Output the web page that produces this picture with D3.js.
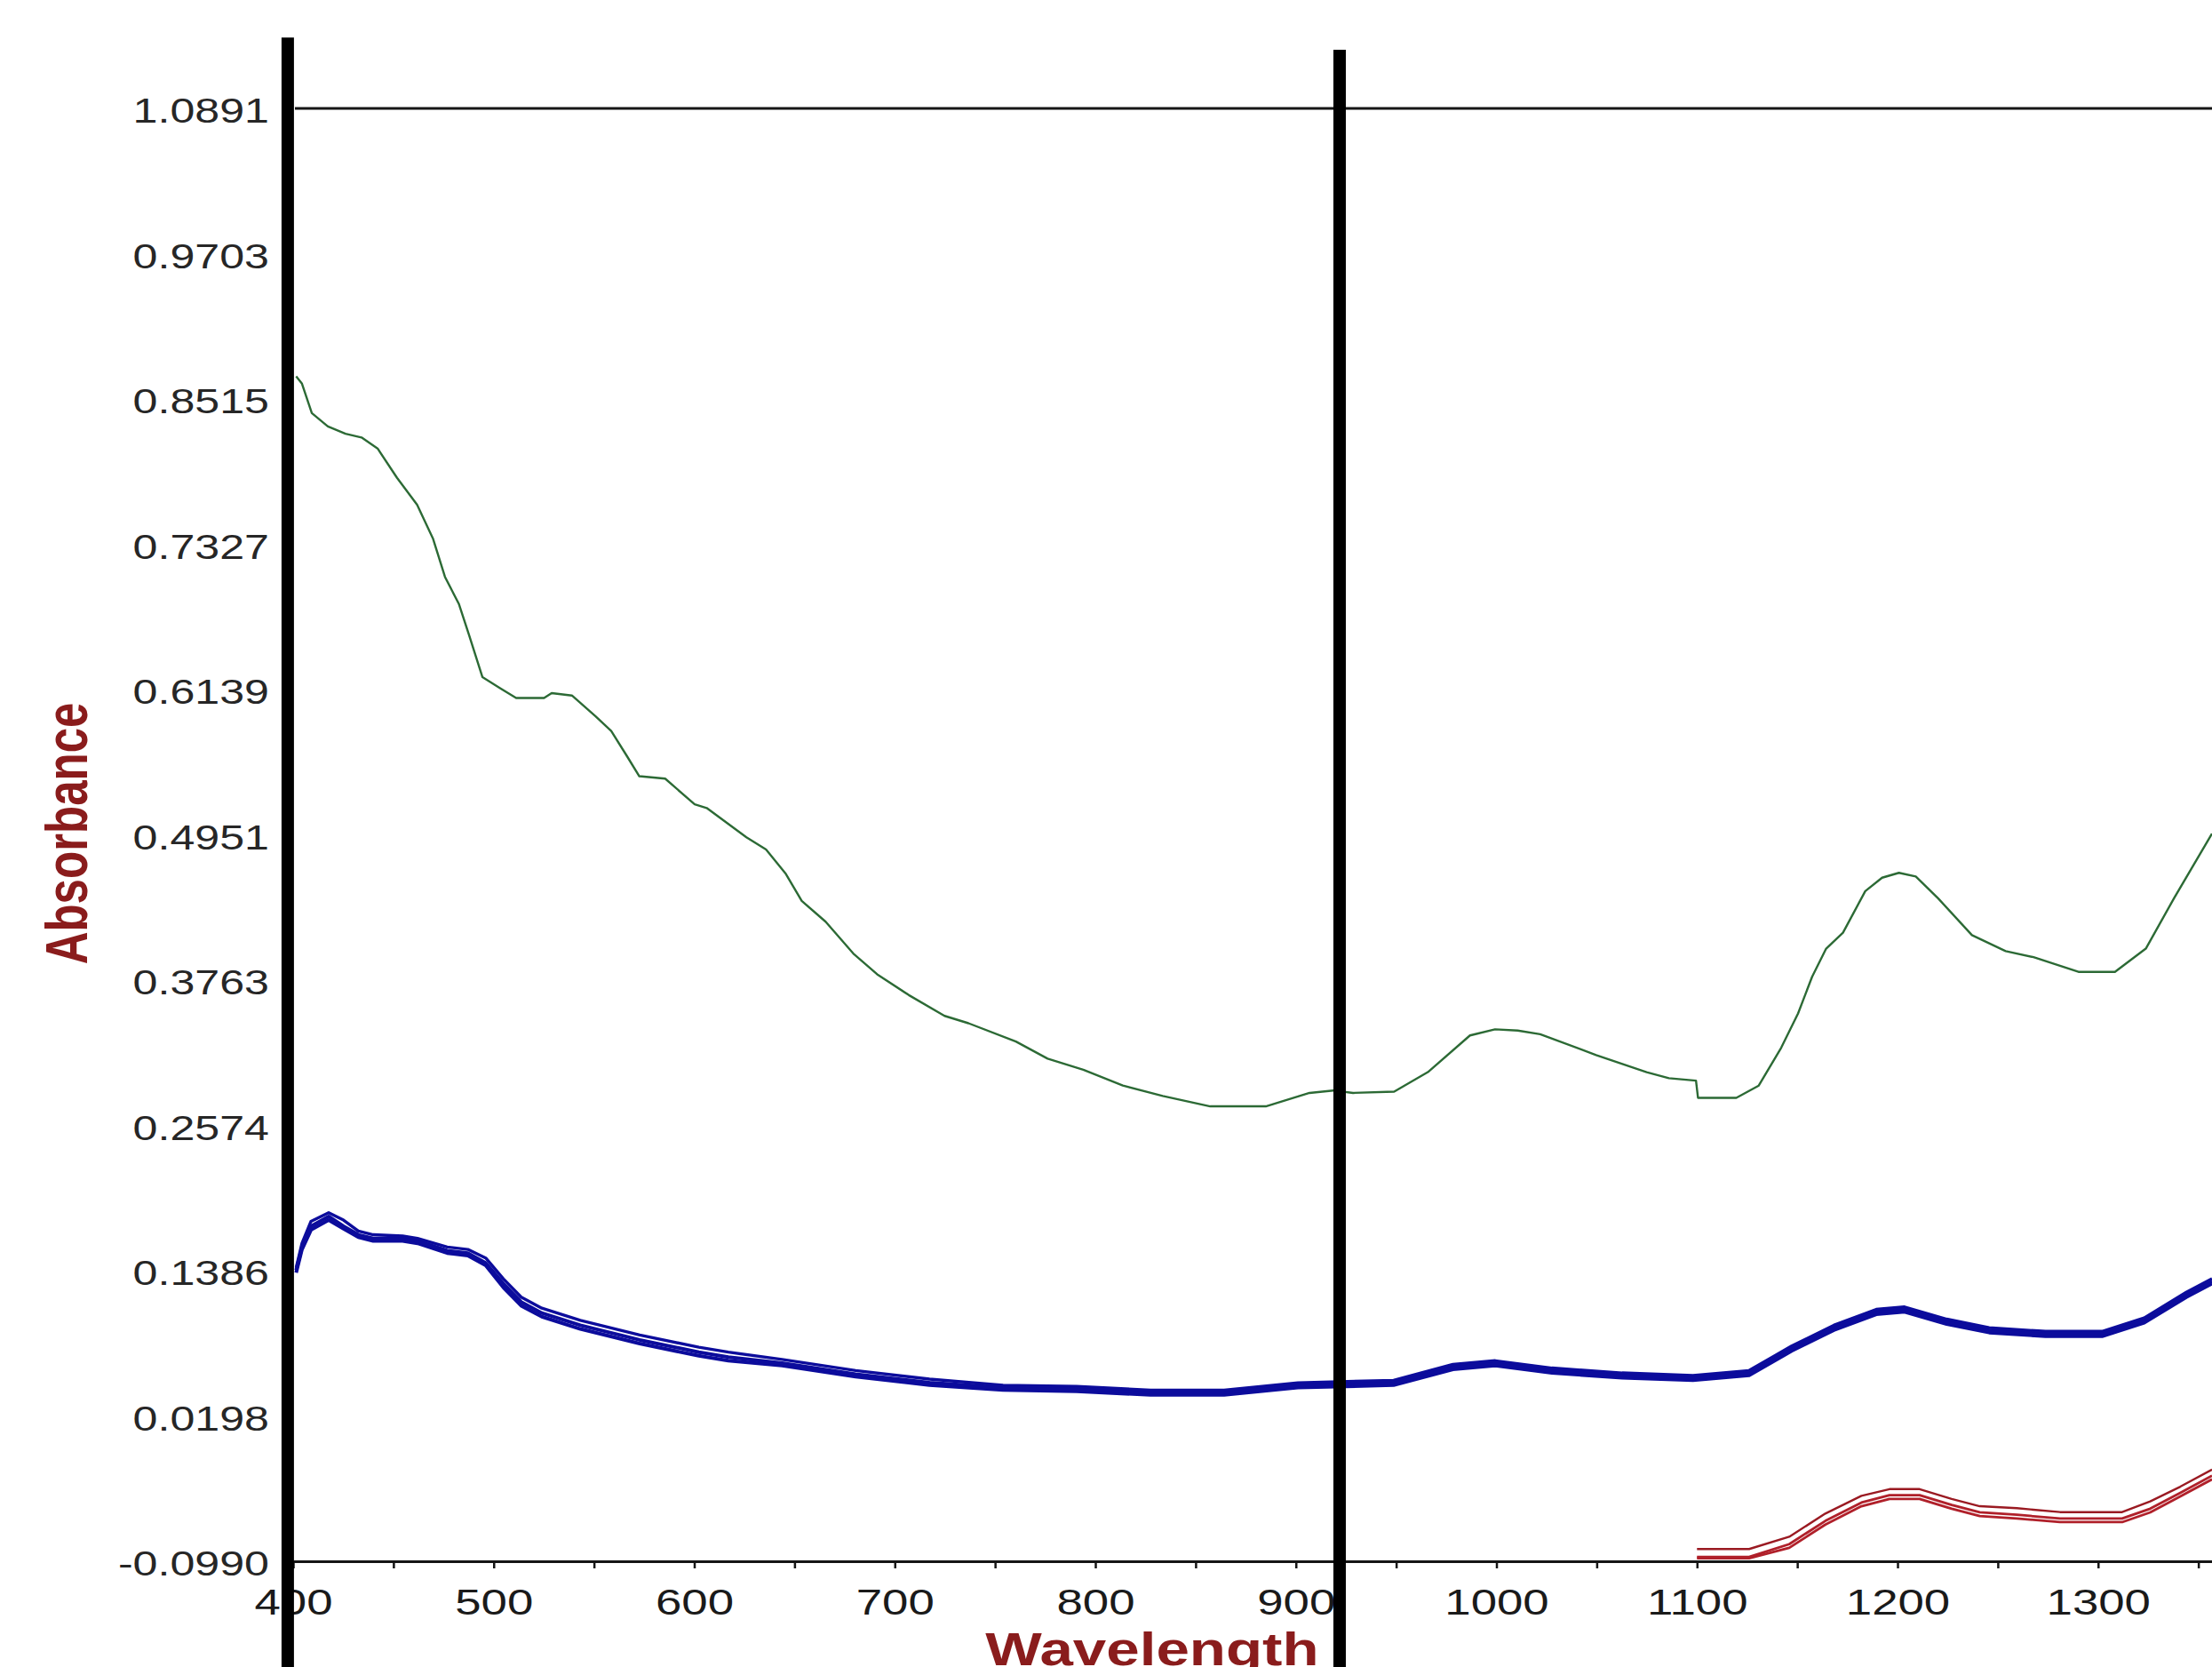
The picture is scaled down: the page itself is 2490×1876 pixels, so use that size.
<!DOCTYPE html>
<html><head><meta charset="utf-8">
<script src="https://cdn.jsdelivr.net/npm/d3@7"></script>
<style>html,body{margin:0;padding:0;background:#fff;overflow:hidden}</style>
</head><body>
<svg id="c" width="2490" height="1876" xmlns="http://www.w3.org/2000/svg"></svg>
<script>
// ---- data ----
const greenW = [401.5,404.4,409.3,417.3,426.1,434.1,442.1,451.8,461.8,469.8,475.7,482.6,487.6,494.4,503.2,511.2,525.1,528.9,539.0,550.8,558.6,566.6,572.6,585.5,600.2,606.2,626,635.8,645.7,653.6,665.5,679.3,691.2,707,724.8,736.7,760.4,776.2,794,813.7,833.6,857.3,885,906.8,918.6,928.5,949,965.8,986.8,999.3,1010.6,1021.8,1049.7,1074.9,1086,1099.5,1100.5,1119.6,1130.8,1142,1150.4,1157.4,1164.4,1172.8,1183.9,1192.3,1200.7,1209.1,1220.3,1237.1,1253.9,1267.8,1290.2,1308.4,1323.8,1337.8,1356.8];
const greenA = [0.870,0.864,0.840,0.829,0.823,0.820,0.811,0.787,0.765,0.737,0.706,0.684,0.659,0.624,0.615,0.607,0.607,0.611,0.609,0.592,0.580,0.559,0.543,0.541,0.520,0.517,0.493,0.483,0.463,0.441,0.424,0.398,0.381,0.364,0.347,0.341,0.326,0.312,0.303,0.290,0.2815,0.273,0.273,0.284,0.286,0.284,0.285,0.301,0.331,0.336,0.335,0.332,0.315,0.301,0.296,0.294,0.280,0.280,0.290,0.321,0.349,0.379,0.402,0.415,0.449,0.460,0.464,0.461,0.443,0.413,0.400,0.395,0.383,0.383,0.402,0.443,0.496];

const blueW = [401.5,404.4,408.9,417.7,425.1,432.5,439.9,454.6,462,476.8,487.1,496,504.8,513.7,524,543.2,572.8,602.3,617,643.8,680.5,717.3,754,790.7,827.5,864.2,901,948.7,978.3,999.4,1027.7,1062.7,1098,1126,1147.2,1168.2,1189.4,1203.5,1224.5,1245.7,1273.8,1302,1323,1344,1356.8];
const blueTop = [0.141,0.161,0.179,0.186,0.180,0.171,0.168,0.167,0.165,0.158,0.156,0.149,0.132,0.117,0.108,0.098,0.086,0.076,0.072,0.066,0.057,0.050,0.045,0.044,0.041,0.041,0.047,0.049,0.062,0.065,0.059,0.055,0.053,0.057,0.077,0.094,0.107,0.109,0.099,0.092,0.089,0.089,0.100,0.121,0.132];
const blueMid = [0.139,0.158,0.175,0.183,0.175,0.168,0.165,0.165,0.163,0.155,0.153,0.145,0.128,0.113,0.104,0.094,0.082,0.072,0.068,0.063,0.054,0.047,0.043,0.042,0.039,0.039,0.045,0.047,0.060,0.063,0.057,0.053,0.051,0.055,0.075,0.092,0.105,0.107,0.097,0.090,0.087,0.087,0.098,0.119,0.130];
const blueLow = [0.137,0.156,0.172,0.180,0.173,0.166,0.163,0.163,0.161,0.153,0.151,0.143,0.125,0.110,0.101,0.091,0.079,0.069,0.065,0.061,0.052,0.045,0.041,0.040,0.037,0.037,0.043,0.045,0.058,0.061,0.055,0.051,0.049,0.053,0.073,0.090,0.103,0.105,0.095,0.088,0.085,0.085,0.096,0.117,0.128];

const redW = [1100,1126,1146,1164,1182,1196,1211,1227,1241,1259.5,1281,1312,1326,1341,1356.8];
const redTop = [-0.089,-0.089,-0.079,-0.060,-0.0455,-0.040,-0.040,-0.048,-0.054,-0.0556,-0.0588,-0.0588,-0.050,-0.038,-0.024];
const redMid = [-0.0955,-0.0955,-0.085,-0.066,-0.051,-0.045,-0.045,-0.053,-0.059,-0.061,-0.064,-0.064,-0.056,-0.043,-0.029];
const redLow = [-0.0965,-0.0965,-0.088,-0.069,-0.054,-0.048,-0.048,-0.056,-0.062,-0.064,-0.067,-0.067,-0.059,-0.046,-0.032];

const xTickValues = [400,450,500,550,600,650,700,750,800,850,900,950,1000,1050,1100,1150,1200,1250,1300,1350];
const xTickLabels = {400:"400",500:"500",600:"600",700:"700",800:"800",900:"900",1000:"1000",1100:"1100",1200:"1200",1300:"1300"};
const yTickValues = [-0.0990,0.0198,0.1386,0.2574,0.3763,0.4951,0.6139,0.7327,0.8515,0.9703,1.0891];
const yTickLabels = ["-0.0990","0.0198","0.1386","0.2574","0.3763","0.4951","0.6139","0.7327","0.8515","0.9703","1.0891"];
const markerW = [397.3, 921.8];
const markerTop = [1.147, 1.137];
const xTitle = "Wavelength";
const yTitle = "Absorbance";

// ---- drawing ----
const W = 2490, H = 1876, SX = 1.32;
const FONT = "'Liberation Sans', Arial, sans-serif";
const svg = d3.select('#c');
svg.append('rect').attr('width',W).attr('height',H).attr('fill','#fff');

const x = d3.scaleLinear().domain([400,1356.8]).range([330,2490]);
const y = d3.scaleLinear().domain([-0.099,1.0891]).range([1757,122]);

// top border line
svg.append('line').attr('x1',x(400)+2).attr('x2',W)
  .attr('y1',y(1.0891)).attr('y2',y(1.0891))
  .attr('stroke','#151515').attr('stroke-width',3);

// x axis
const xAxis = d3.axisBottom(x).tickValues(xTickValues).tickSize(8).tickSizeOuter(0)
  .tickFormat(d => xTickLabels[d] || "");
const gx = svg.append('g').attr('transform',`translate(0,${y(-0.099)})`).call(xAxis);
gx.select('.domain').attr('stroke','#151515').attr('stroke-width',3);
gx.selectAll('.tick line').attr('stroke','#151515').attr('stroke-width',2.5);
gx.selectAll('.tick text').attr('font-family',FONT).attr('font-size',40).attr('fill','#1a1a1a')
  .attr('y',0).attr('dy',0).attr('transform',`translate(0,60) scale(${SX},1)`);

// y axis
const yAxis = d3.axisLeft(y).tickValues(yTickValues).tickSize(0)
  .tickFormat((d,i) => yTickLabels[i]);
const gy = svg.append('g').attr('transform',`translate(${x(400)+1},0)`).call(yAxis);
gy.select('.domain').remove();
gy.selectAll('.tick text').attr('font-family',FONT).attr('font-size',38).attr('fill','#262626')
  .attr('x',0).attr('dy','0.42em').attr('transform',`translate(-28,0) scale(${SX},1)`);

// series
const line = d3.line().x(d => x(d[0])).y(d => y(d[1]));
const zip = (ws, vs) => ws.map((w,i) => [w, vs[i]]);

const series = [
  {w: greenW, v: greenA, color: '#2c6a35', width: 2.4},
  {w: blueW, v: blueLow, color: '#0c0c9c', width: 4},
  {w: blueW, v: blueMid, color: '#0c0c9c', width: 4},
  {w: blueW, v: blueTop, color: '#0c0c9c', width: 3.4},
  {w: redW, v: redLow, color: '#b0202a', width: 2.8},
  {w: redW, v: redMid, color: '#b0202a', width: 2.8},
  {w: redW, v: redTop, color: '#9a1a22', width: 2.4}
];
svg.append('g').selectAll('path').data(series).join('path')
  .attr('d', s => line(zip(s.w, s.v)))
  .attr('fill','none').attr('stroke', s => s.color).attr('stroke-width', s => s.width)
  .attr('stroke-linejoin','round');

// axis titles
svg.append('text').text(yTitle)
  .attr('font-family',FONT).attr('font-weight','bold').attr('font-size',51)
  .attr('fill','#8a1c1c').attr('text-anchor','middle')
  .attr('transform',`translate(98,938) scale(${SX},1) rotate(-90)`);
svg.append('text').text(xTitle)
  .attr('font-family',FONT).attr('font-weight','bold').attr('font-size',51)
  .attr('fill','#8a1c1c').attr('text-anchor','middle')
  .attr('transform',`translate(1297,1874) scale(${SX},1)`);

// thick marker lines
svg.append('g').selectAll('line').data(markerW).join('line')
  .attr('x1', d => x(d)).attr('x2', d => x(d))
  .attr('y1', (d,i) => y(markerTop[i])).attr('y2', H)
  .attr('stroke','#000').attr('stroke-width',14);
</script>
</body></html>
